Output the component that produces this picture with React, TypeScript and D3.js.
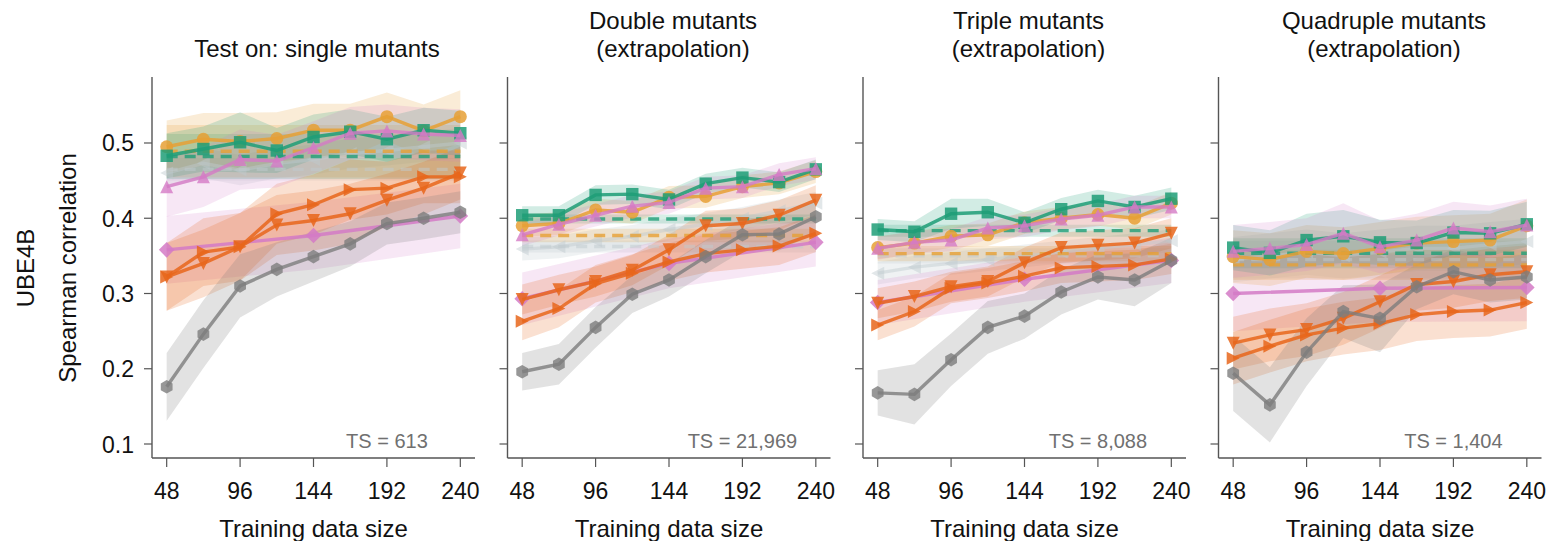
import React from "react";
import * as d3 from "d3";

// ---------- shared axes data ----------
const xs = [48, 72, 96, 120, 144, 168, 192, 216, 240];
const xsDiamond = [48, 144, 240];
const xTicks = [48, 96, 144, 192, 240];
const yTicks = [0.1, 0.2, 0.3, 0.4, 0.5];
const yTickLabels = ["0.1", "0.2", "0.3", "0.4", "0.5"];
const panelTitles = [
  ["Test on: single mutants"],
  ["Double mutants", "(extrapolation)"],
  ["Triple mutants", "(extrapolation)"],
  ["Quadruple mutants", "(extrapolation)"],
];
const tsLabels = ["TS = 613", "TS = 21,969", "TS = 8,088", "TS = 1,404"];

// ---------- panel 1: single mutants ----------
const p1Gold = [0.495, 0.505, 0.502, 0.506, 0.517, 0.517, 0.535, 0.516, 0.535];
const p1GoldCI = [0.035, 0.035, 0.038, 0.035, 0.035, 0.035, 0.032, 0.035, 0.035];
const p1Green = [0.483, 0.492, 0.501, 0.49, 0.508, 0.515, 0.505, 0.517, 0.513];
const p1GreenCI = [0.03, 0.03, 0.04, 0.03, 0.03, 0.03, 0.03, 0.03, 0.03];
const p1PinkUp = [0.442, 0.455, 0.478, 0.476, 0.494, 0.513, 0.516, 0.512, 0.51];
const p1PinkUpCI = [0.04, 0.04, 0.04, 0.035, 0.035, 0.035, 0.035, 0.035, 0.035];
const p1Light = [0.46, 0.473, 0.464, 0.473, 0.478, 0.486, 0.49, 0.495, 0.5];
const p1LightCI = [0.02, 0.02, 0.02, 0.02, 0.02, 0.02, 0.02, 0.02, 0.02];
const p1Down = [0.322, 0.34, 0.362, 0.391, 0.397, 0.406, 0.424, 0.44, 0.46];
const p1DownCI = [0.045, 0.045, 0.045, 0.04, 0.04, 0.04, 0.035, 0.035, 0.035];
const p1Right = [0.322, 0.355, 0.362, 0.406, 0.418, 0.438, 0.44, 0.455, 0.455];
const p1RightCI = [0.045, 0.045, 0.045, 0.04, 0.04, 0.04, 0.035, 0.035, 0.035];
const p1Diamond = [0.358, 0.377, 0.403];
const p1DiamondCI = [0.045, 0.045, 0.043];
const p1Gray = [0.176, 0.246, 0.31, 0.332, 0.349, 0.366, 0.393, 0.4, 0.408];
const p1GrayCI = [0.045, 0.045, 0.042, 0.036, 0.033, 0.03, 0.028, 0.028, 0.028];
const p1Dashed = [0.482, 0.489, 0.465]; // green, gold, light
const p1DashedCI = [0.03, 0.035, 0.015];

// ---------- panel 2: double mutants ----------
const p2Gold = [0.39, 0.393, 0.411, 0.408, 0.428, 0.429, 0.442, 0.447, 0.462];
const p2GoldCI = [0.015, 0.015, 0.015, 0.015, 0.015, 0.015, 0.015, 0.015, 0.015];
const p2Green = [0.404, 0.404, 0.431, 0.432, 0.425, 0.446, 0.454, 0.448, 0.465];
const p2GreenCI = [0.012, 0.012, 0.013, 0.013, 0.013, 0.013, 0.013, 0.013, 0.013];
const p2PinkUp = [0.378, 0.392, 0.404, 0.416, 0.421, 0.44, 0.442, 0.458, 0.466];
const p2PinkUpCI = [0.015, 0.015, 0.015, 0.015, 0.015, 0.015, 0.015, 0.015, 0.015];
const p2Light = [0.359, 0.362, 0.37, 0.376, 0.385, 0.392, 0.4, 0.41, 0.42];
const p2LightCI = [0.015, 0.015, 0.015, 0.015, 0.015, 0.015, 0.015, 0.015, 0.015];
const p2Down = [0.292, 0.305, 0.316, 0.331, 0.358, 0.39, 0.393, 0.404, 0.424];
const p2DownCI = [0.02, 0.02, 0.02, 0.02, 0.02, 0.02, 0.02, 0.02, 0.02];
const p2Right = [0.263, 0.28, 0.313, 0.327, 0.342, 0.353, 0.358, 0.363, 0.38];
const p2RightCI = [0.025, 0.025, 0.025, 0.025, 0.025, 0.025, 0.025, 0.025, 0.025];
const p2Diamond = [0.293, 0.34, 0.368];
const p2DiamondCI = [0.035, 0.033, 0.032];
const p2Gray = [0.196, 0.206, 0.255, 0.299, 0.318, 0.349, 0.378, 0.379, 0.402];
const p2GrayCI = [0.025, 0.027, 0.027, 0.025, 0.022, 0.022, 0.022, 0.022, 0.022];
const p2Dashed = [0.399, 0.377, 0.3625];
const p2DashedCI = [0.006, 0.009, 0.008];

// ---------- panel 3: triple mutants ----------
const p3Gold = [0.361, 0.367, 0.376, 0.378, 0.394, 0.4, 0.405, 0.4, 0.42];
const p3GoldCI = [0.015, 0.015, 0.015, 0.015, 0.015, 0.015, 0.015, 0.015, 0.015];
const p3Green = [0.385, 0.382, 0.406, 0.408, 0.394, 0.412, 0.423, 0.415, 0.426];
const p3GreenCI = [0.014, 0.014, 0.02, 0.018, 0.014, 0.015, 0.015, 0.015, 0.015];
const p3PinkUp = [0.36, 0.368, 0.371, 0.387, 0.39, 0.399, 0.404, 0.415, 0.415];
const p3PinkUpCI = [0.015, 0.015, 0.015, 0.015, 0.015, 0.015, 0.015, 0.015, 0.015];
const p3Light = [0.327, 0.335, 0.34, 0.345, 0.35, 0.355, 0.36, 0.365, 0.37];
const p3LightCI = [0.015, 0.015, 0.015, 0.015, 0.015, 0.015, 0.015, 0.015, 0.015];
const p3Down = [0.287, 0.296, 0.309, 0.316, 0.341, 0.361, 0.364, 0.367, 0.38];
const p3DownCI = [0.02, 0.02, 0.02, 0.02, 0.02, 0.02, 0.02, 0.02, 0.02];
const p3Right = [0.258, 0.276, 0.307, 0.314, 0.323, 0.334, 0.336, 0.338, 0.346];
const p3RightCI = [0.02, 0.02, 0.02, 0.02, 0.02, 0.02, 0.02, 0.02, 0.02];
const p3Diamond = [0.288, 0.319, 0.344];
const p3DiamondCI = [0.03, 0.03, 0.03];
const p3Gray = [0.168, 0.166, 0.212, 0.255, 0.27, 0.302, 0.322, 0.318, 0.344];
const p3GrayCI = [0.03, 0.04, 0.035, 0.035, 0.03, 0.03, 0.03, 0.035, 0.03];
const p3Dashed = [0.3835, 0.353, 0.35];
const p3DashedCI = [0.008, 0.01, 0.01];

// ---------- panel 4: quadruple mutants ----------
const p4Gold = [0.349, 0.345, 0.356, 0.353, 0.36, 0.367, 0.369, 0.371, 0.39];
const p4GoldCI = [0.035, 0.035, 0.035, 0.035, 0.035, 0.035, 0.035, 0.035, 0.035];
const p4Green = [0.361, 0.354, 0.371, 0.376, 0.368, 0.367, 0.381, 0.38, 0.392];
const p4GreenCI = [0.03, 0.03, 0.035, 0.035, 0.03, 0.03, 0.03, 0.03, 0.03];
const p4PinkUp = [0.356, 0.36, 0.365, 0.38, 0.362, 0.371, 0.387, 0.382, 0.391];
const p4PinkUpCI = [0.035, 0.035, 0.035, 0.04, 0.035, 0.035, 0.035, 0.035, 0.035];
const p4Light = [0.345, 0.35, 0.355, 0.35, 0.355, 0.36, 0.36, 0.365, 0.369];
const p4LightCI = [0.03, 0.03, 0.03, 0.03, 0.03, 0.03, 0.03, 0.03, 0.03];
const p4Down = [0.234, 0.245, 0.252, 0.267, 0.289, 0.312, 0.316, 0.325, 0.329];
const p4DownCI = [0.035, 0.035, 0.035, 0.035, 0.035, 0.035, 0.035, 0.035, 0.035];
const p4Right = [0.214, 0.23, 0.245, 0.254, 0.26, 0.272, 0.276, 0.278, 0.288];
const p4RightCI = [0.035, 0.035, 0.035, 0.035, 0.035, 0.035, 0.035, 0.035, 0.035];
const p4Diamond = [0.3, 0.307, 0.308];
const p4DiamondCI = [0.05, 0.045, 0.045];
const p4Gray = [0.194, 0.152, 0.222, 0.276, 0.267, 0.309, 0.329, 0.318, 0.322];
const p4GrayCI = [0.05, 0.05, 0.045, 0.035, 0.045, 0.03, 0.03, 0.03, 0.03];
const p4Dashed = [0.3535, 0.338, 0.345];
const p4DashedCI = [0.02, 0.02, 0.025];

// ---------- styles ----------
const C = {
  gold: "#e6a035",
  green: "#1f9e77",
  pink: "#d47ac6",
  orange: "#e8661b",
  gray: "#7d7d7d",
  light: "#bfcace",
};

type Series = {
  xs: number[];
  m: number[];
  ci: number[];
  color: string;
  marker: string | null;
  dashed?: boolean;
  lineOpacity: number;
  bandOpacity: number;
};

function buildPanel(
  gold: number[], goldCI: number[], green: number[], greenCI: number[],
  pinkUp: number[], pinkUpCI: number[], light: number[], lightCI: number[],
  down: number[], downCI: number[], right: number[], rightCI: number[],
  diamond: number[], diamondCI: number[], gray: number[], grayCI: number[],
  dashed: number[], dashedCI: number[]
): Series[] {
  const flat = (v: number) => xs.map(() => v);
  return [
    { xs, m: light, ci: lightCI, color: C.light, marker: "triLeft", lineOpacity: 0.45, bandOpacity: 0.25 },
    { xs, m: flat(dashed[2]), ci: flat(dashedCI[2]), color: C.light, marker: null, dashed: true, lineOpacity: 0.5, bandOpacity: 0.25 },
    { xs, m: flat(dashed[1]), ci: flat(dashedCI[1]), color: C.gold, marker: null, dashed: true, lineOpacity: 0.8, bandOpacity: 0.2 },
    { xs, m: flat(dashed[0]), ci: flat(dashedCI[0]), color: C.green, marker: null, dashed: true, lineOpacity: 0.8, bandOpacity: 0.18 },
    { xs: xsDiamond, m: diamond, ci: diamondCI, color: C.pink, marker: "diamond", lineOpacity: 0.85, bandOpacity: 0.18 },
    { xs, m: down, ci: downCI, color: C.orange, marker: "triDown", lineOpacity: 0.85, bandOpacity: 0.2 },
    { xs, m: right, ci: rightCI, color: C.orange, marker: "triRight", lineOpacity: 0.85, bandOpacity: 0.2 },
    { xs, m: gray, ci: grayCI, color: C.gray, marker: "hex", lineOpacity: 0.8, bandOpacity: 0.22 },
    { xs, m: gold, ci: goldCI, color: C.gold, marker: "circle", lineOpacity: 0.85, bandOpacity: 0.2 },
    { xs, m: green, ci: greenCI, color: C.green, marker: "square", lineOpacity: 0.85, bandOpacity: 0.2 },
    { xs, m: pinkUp, ci: pinkUpCI, color: C.pink, marker: "triUp", lineOpacity: 0.8, bandOpacity: 0.18 },
  ];
}

const panels: Series[][] = [
  buildPanel(p1Gold, p1GoldCI, p1Green, p1GreenCI, p1PinkUp, p1PinkUpCI, p1Light, p1LightCI, p1Down, p1DownCI, p1Right, p1RightCI, p1Diamond, p1DiamondCI, p1Gray, p1GrayCI, p1Dashed, p1DashedCI),
  buildPanel(p2Gold, p2GoldCI, p2Green, p2GreenCI, p2PinkUp, p2PinkUpCI, p2Light, p2LightCI, p2Down, p2DownCI, p2Right, p2RightCI, p2Diamond, p2DiamondCI, p2Gray, p2GrayCI, p2Dashed, p2DashedCI),
  buildPanel(p3Gold, p3GoldCI, p3Green, p3GreenCI, p3PinkUp, p3PinkUpCI, p3Light, p3LightCI, p3Down, p3DownCI, p3Right, p3RightCI, p3Diamond, p3DiamondCI, p3Gray, p3GrayCI, p3Dashed, p3DashedCI),
  buildPanel(p4Gold, p4GoldCI, p4Green, p4GreenCI, p4PinkUp, p4PinkUpCI, p4Light, p4LightCI, p4Down, p4DownCI, p4Right, p4RightCI, p4Diamond, p4DiamondCI, p4Gray, p4GrayCI, p4Dashed, p4DashedCI),
];

function markerPath(type: string): string {
  const s = 6.5;
  switch (type) {
    case "circle": {
      const r = 6.5;
      return `M${-r},0a${r},${r} 0 1,0 ${2 * r},0a${r},${r} 0 1,0 ${-2 * r},0Z`;
    }
    case "square":
      return `M-6.2,-6.2H6.2V6.2H-6.2Z`;
    case "triUp":
      return `M0,${-s}L${s},${s}L${-s},${s}Z`;
    case "triDown":
      return `M0,${s}L${s},${-s}L${-s},${-s}Z`;
    case "triRight":
      return `M${s},0L${-s},${-s}L${-s},${s}Z`;
    case "triLeft":
      return `M${-s},0L${s},${-s}L${s},${s}Z`;
    case "diamond":
      return `M0,-7.8L7.8,0L0,7.8L-7.8,0Z`;
    case "hex": {
      const r = 6.8;
      const pts = d3.range(6).map((i) => {
        const a = (Math.PI / 3) * i + Math.PI / 6;
        return [r * Math.cos(a), r * Math.sin(a)];
      });
      return "M" + pts.map((p) => p.join(",")).join("L") + "Z";
    }
  }
  return "";
}

const W = 1556;
const H = 541;
const panelLeft = [152, 507.5, 863, 1218.5];
const panelWidth = 323;
const yTop = 77;
const yBottom = 458;
const font = "'Liberation Sans', Arial, Helvetica, sans-serif";

export default function App() {
  const y = d3.scaleLinear().domain([0.0814, 0.5877]).range([yBottom, yTop]);
  return (
    <svg
      width={W}
      height={H}
      style={{ position: "absolute", left: 0, top: 0, background: "#fff" }}
      fontFamily={font}
    >
      {/* y labels */}
      <text transform={`translate(33.5,268) rotate(-90)`} textAnchor="middle" fontSize={24} fill="#111">
        UBE4B
      </text>
      <text transform={`translate(76,268) rotate(-90)`} textAnchor="middle" fontSize={24} fill="#111">
        Spearman correlation
      </text>
      {panels.map((series, pi) => {
        const x0 = panelLeft[pi];
        const x = d3.scaleLinear().domain([38.4, 249.6]).range([x0, x0 + panelWidth]);
        const cx = x0 + panelWidth / 2;
        const area = d3
          .area<[number, number, number]>()
          .x((d) => x(d[0]))
          .y0((d) => y(d[1] - d[2]))
          .y1((d) => y(d[1] + d[2]));
        const line = d3
          .line<[number, number]>()
          .x((d) => x(d[0]))
          .y((d) => y(d[1]));
        const title = panelTitles[pi];
        return (
          <g key={pi}>
            {/* title */}
            {title.length === 1 ? (
              <text x={cx + 3.5} y={57} textAnchor="middle" fontSize={24} fill="#111">
                {title[0]}
              </text>
            ) : (
              <g>
                <text x={cx + 4} y={29} textAnchor="middle" fontSize={24} fill="#111">
                  {title[0]}
                </text>
                <text x={cx + 4} y={57} textAnchor="middle" fontSize={24} fill="#111">
                  {title[1]}
                </text>
              </g>
            )}
            {/* bands */}
            {series.map((s, si) => (
              <path
                key={"b" + si}
                d={area(s.xs.map((xv, i) => [xv, s.m[i], s.ci[i]] as [number, number, number])) || ""}
                fill={s.color}
                fillOpacity={s.bandOpacity}
                stroke="none"
              />
            ))}
            {/* lines + markers */}
            {series.map((s, si) => (
              <g key={"l" + si}>
                <path
                  d={line(s.xs.map((xv, i) => [xv, s.m[i]] as [number, number])) || ""}
                  fill="none"
                  stroke={s.color}
                  strokeOpacity={s.lineOpacity}
                  strokeWidth={3.4}
                  strokeDasharray={s.dashed ? "11,7" : undefined}
                />
                {s.marker &&
                  s.xs.map((xv, i) => (
                    <path
                      key={i}
                      transform={`translate(${x(xv)},${y(s.m[i])})`}
                      d={markerPath(s.marker as string)}
                      fill={s.color}
                      fillOpacity={s.lineOpacity}
                    />
                  ))}
              </g>
            ))}
            {/* TS label */}
            <text x={x(192)} y={448} textAnchor="middle" fontSize={20} fill="#707070">
              {tsLabels[pi]}
            </text>
            {/* spines */}
            <line x1={x0} x2={x0} y1={yTop} y2={yBottom} stroke="#555" strokeWidth={1.4} />
            <line x1={x0} x2={x0 + panelWidth} y1={yBottom} y2={yBottom} stroke="#555" strokeWidth={1.4} />
            {/* y ticks */}
            {yTicks.map((t, i) => (
              <g key={"yt" + i}>
                <line x1={x0 - 8} x2={x0} y1={y(t)} y2={y(t)} stroke="#555" strokeWidth={1.2} />
                {pi === 0 && (
                  <text x={x0 - 18} y={y(t) + 8.5} textAnchor="end" fontSize={23} fill="#111">
                    {yTickLabels[i]}
                  </text>
                )}
              </g>
            ))}
            {/* x ticks */}
            {xTicks.map((t, i) => (
              <g key={"xt" + i}>
                <line x1={x(t)} x2={x(t)} y1={yBottom} y2={yBottom + 9} stroke="#555" strokeWidth={1.2} />
                <text x={x(t)} y={499} textAnchor="middle" fontSize={23} fill="#111">
                  {t}
                </text>
              </g>
            ))}
            <text x={cx} y={537} textAnchor="middle" fontSize={24} fill="#111">
              Training data size
            </text>
          </g>
        );
      })}
    </svg>
  );
}
